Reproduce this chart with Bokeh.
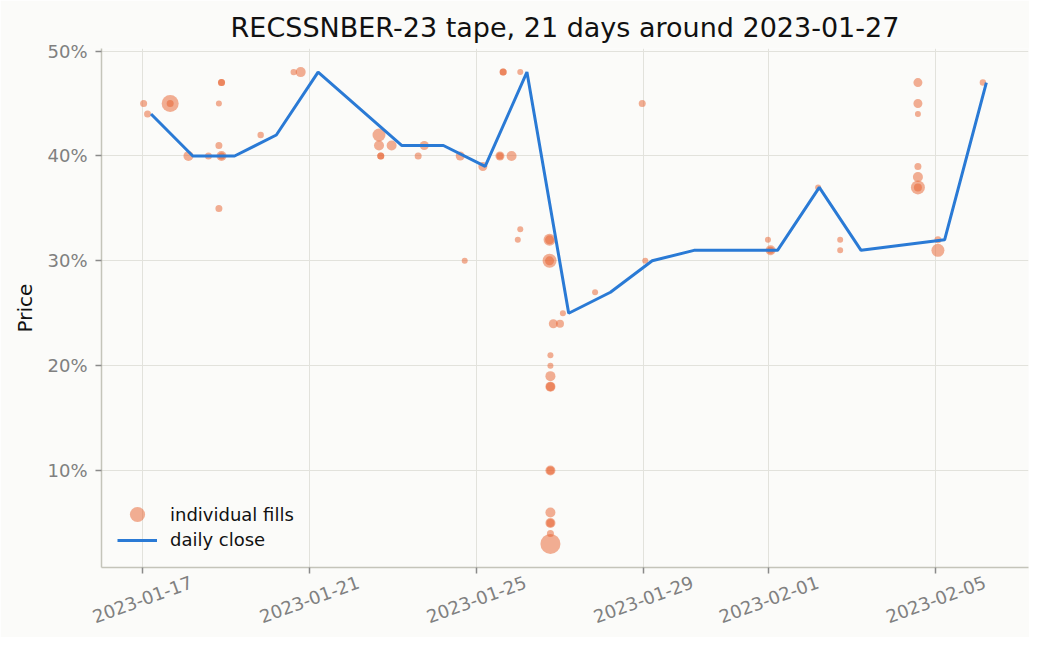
import math
import numpy as np
import pandas as pd
from bokeh.plotting import figure
from bokeh.models import (ColumnDataSource, Range1d, FixedTicker, DatetimeTickFormatter,
                          PrintfTickFormatter, Legend, LegendItem, LinearAxis)
from bokeh.embed import file_html
from bokeh.resources import INLINE

# ---------------- data ----------------
fill_times = [
    "2023-01-17 00:45", "2023-01-17 03:00", "2023-01-17 16:00", "2023-01-17 16:00",
    "2023-01-18 02:30", "2023-01-18 14:00", "2023-01-18 20:00", "2023-01-18 21:30",
    "2023-01-18 21:30", "2023-01-18 20:00", "2023-01-18 21:30", "2023-01-18 21:30",
    "2023-01-18 20:00",
    "2023-01-19 20:00",
    "2023-01-20 15:00", "2023-01-20 19:00",
    "2023-01-22 16:00", "2023-01-22 16:00", "2023-01-22 23:15", "2023-01-22 17:00",
    "2023-01-22 17:00",
    "2023-01-23 14:30", "2023-01-23 18:00",
    "2023-01-24 14:40", "2023-01-24 17:15",
    "2023-01-25 03:40", "2023-01-25 13:30", "2023-01-25 13:30", "2023-01-25 20:10",
    "2023-01-25 15:20", "2023-01-25 15:20", "2023-01-25 23:45",
    "2023-01-26 01:10", "2023-01-26 01:10", "2023-01-26 18:00", "2023-01-26 18:00",
    "2023-01-26 18:00", "2023-01-26 18:00",
    "2023-01-26 18:30", "2023-01-26 18:30", "2023-01-26 18:30", "2023-01-26 18:30",
    "2023-01-26 18:30", "2023-01-26 18:30", "2023-01-26 18:30", "2023-01-26 18:30",
    "2023-01-26 18:30", "2023-01-26 18:30", "2023-01-26 18:30", "2023-01-26 18:30",
    "2023-01-26 20:10",
    "2023-01-27 00:00", "2023-01-27 01:40", "2023-01-27 20:10",
    "2023-01-28 23:15",
    "2023-01-29 01:00",
    "2023-01-31 23:30",
    "2023-02-01 01:00", "2023-02-01 01:00",
    "2023-02-02 04:20", "2023-02-02 17:00", "2023-02-02 17:00",
    "2023-02-04 13:40", "2023-02-04 13:40", "2023-02-04 13:40", "2023-02-04 13:40",
    "2023-02-04 13:40", "2023-02-04 13:40", "2023-02-04 13:40",
    "2023-02-05 01:10", "2023-02-05 01:10",
    "2023-02-06 03:00",
]
fill_prices = [
    45, 44, 45, 45,
    40, 40, 45, 47,
    47, 41, 40, 40,
    35,
    42,
    48, 48,
    42, 41, 41, 40,
    40,
    40, 41,
    40, 30,
    39, 40, 40, 40,
    48, 48, 32,
    48, 33, 32, 32,
    30, 30,
    21, 20, 19, 18,
    18, 10, 10, 6,
    5, 5, 4, 3,
    24,
    24, 25, 27,
    45,
    30,
    32,
    31, 31,
    37, 32, 31,
    47, 45, 44, 39,
    38, 37, 37,
    32, 31,
    47,
]
fill_qty = [
    4, 4, 144, 4,
    25, 4, 1, 4,
    4, 4, 25, 4,
    4,
    2,
    2, 25,
    64, 25, 25, 4,
    4,
    4, 16,
    16, 1,
    16, 16, 4, 25,
    4, 4, 1,
    1, 1, 49, 16,
    81, 16,
    1, 1, 25, 25,
    16, 25, 9, 25,
    25, 9, 4, 225,
    16,
    9, 1, 1,
    4,
    1,
    1,
    25, 4,
    1, 1, 1,
    16, 16, 1, 4,
    25, 81, 9,
    4, 64,
    2,
]

close_dates = [
    "2023-01-17", "2023-01-18", "2023-01-19", "2023-01-20", "2023-01-21",
    "2023-01-23", "2023-01-24", "2023-01-25", "2023-01-26", "2023-01-27",
    "2023-01-28", "2023-01-29", "2023-01-30", "2023-02-01", "2023-02-02",
    "2023-02-03", "2023-02-05", "2023-02-06",
]
close_prices = [44, 40, 40, 42, 48, 41, 41, 39, 48, 25, 27, 30, 31, 31, 37, 31, 32, 47]

tick_dates = ["2023-01-17", "2023-01-21", "2023-01-25", "2023-01-29", "2023-02-01", "2023-02-05"]
price_ticks = [10, 20, 30, 40, 50]

title_text = "RECSSNBER-23 tape, 21 days around 2023-01-27"

# ---------------- layout constants ----------------
W, H = 1029, 637
BORDER_L, BORDER_R, BORDER_T, BORDER_B = 101, 1, 48, 70
FRAME_W = W - BORDER_L - BORDER_R
LABEL_ANGLE = math.radians(20)
LABEL_PX = 18
LABEL_W_EM = 5.81          # advance width of "YYYY-MM-DD" in DejaVu Sans (em)

# ---------------- build ----------------
ft = pd.to_datetime(fill_times)
ct = pd.to_datetime(close_dates) + pd.Timedelta(hours=5)
fp = np.array(fill_prices, dtype=float)
cp = np.array(close_prices, dtype=float)
sizes = 5 + np.sqrt(np.array(fill_qty, dtype=float))

all_t = ft.append(ct)
tmin, tmax = all_t.min(), all_t.max()
tpad = (tmax - tmin) * 0.05
x_start, x_end = tmin - tpad, tmax + tpad
pmin = min(fp.min(), cp.min())
pmax = max(fp.max(), cp.max())
ppad = (pmax - pmin) * 0.05

BG = "#fbfbf9"
FONT = "DejaVu Sans"
TICK_GREY = "#808080"

p = figure(width=W, height=H, x_axis_type="datetime",
           output_backend="svg", toolbar_location=None,
           x_range=Range1d(x_start, x_end),
           y_range=Range1d(pmin - ppad, pmax + ppad),
           min_border_left=BORDER_L, min_border_right=BORDER_R,
           min_border_top=BORDER_T, min_border_bottom=BORDER_B,
           background_fill_color=BG, border_fill_color=BG, outline_line_color=None)

p.title.text = title_text
p.title.align = "center"
p.title.text_font = FONT
p.title.text_font_size = "27px"
p.title.text_font_style = "normal"
p.title.text_color = "#111111"
p.title.standoff = 11

src = ColumnDataSource(dict(t=ft, price=fp, sz=sizes))
sc = p.scatter("t", "price", size="sz", source=src, fill_color="#e8602c",
               fill_alpha=0.5, line_color=None)
ln = p.line(ct, cp, line_color="#2a7ad5", line_width=3)

xax = p.xaxis[0]
yax = p.yaxis[0]

tick_ms = [int(v) // 10**6 for v in pd.to_datetime(tick_dates).astype("int64")]
xax.ticker = FixedTicker(ticks=tick_ms)
fmt = "%Y-%m-%d"
xax.formatter = DatetimeTickFormatter(hours=fmt, days=fmt, months=fmt, years=fmt)
xax.major_label_overrides = {ms: "" for ms in tick_ms}

yax.ticker = FixedTicker(ticks=price_ticks)
yax.formatter = PrintfTickFormatter(format="%d%%")
yax.axis_label = "Price"
yax.axis_label_text_font = FONT
yax.axis_label_text_font_size = "20px"
yax.axis_label_text_font_style = "normal"
yax.axis_label_text_color = "#111111"
yax.axis_label_standoff = 7

for ax in (xax, yax):
    ax.axis_line_color = "#c4c4ba"
    ax.axis_line_width = 1.5
    ax.major_tick_line_color = "#8a8a8a"
    ax.major_tick_line_width = 1.5
    ax.major_tick_out = 6
    ax.major_tick_in = 0
    ax.minor_tick_line_color = None
    ax.major_label_text_color = TICK_GREY
    ax.major_label_text_font = FONT
    ax.major_label_text_font_size = "18px"
    ax.major_label_standoff = 8
xax.major_label_standoff = 0

for g in (p.xgrid, p.ygrid):
    g.grid_line_color = "#e2e2dc"
    g.grid_line_width = 1

# second, tick-less axis that carries the rotated date labels, centred on the ticks
ms_per_px = (x_end - x_start).total_seconds() * 1000.0 / FRAME_W
shift = int(round(0.5 * LABEL_W_EM * LABEL_PX * math.cos(LABEL_ANGLE) * ms_per_px))
lab_ticks = [ms + shift for ms in tick_ms]
lab_axis = LinearAxis(ticker=FixedTicker(ticks=lab_ticks),
                      major_label_overrides={t: d for t, d in zip(lab_ticks, tick_dates)},
                      major_label_orientation=LABEL_ANGLE,
                      axis_line_color=None, major_tick_line_color=None,
                      minor_tick_line_color=None, major_tick_out=0, major_tick_in=0,
                      major_label_standoff=8,
                      major_label_text_font=FONT, major_label_text_font_size=f"{LABEL_PX}px",
                      major_label_text_color=TICK_GREY)
p.add_layout(lab_axis, "below")


def make_legend(item, gh, loc):
    lg = Legend(items=[item], location=loc)
    lg.label_text_font = FONT
    lg.label_text_font_size = "18px"
    lg.label_text_color = "#111111"
    lg.glyph_width = 40
    lg.glyph_height = gh
    lg.label_standoff = 13
    lg.padding = 0
    lg.margin = 0
    lg.spacing = 0
    lg.border_line_color = None
    lg.background_fill_alpha = 0
    return lg


p.add_layout(make_legend(LegendItem(label="individual fills", renderers=[sc]), 38, (16, 34)))
p.add_layout(make_legend(LegendItem(label="daily close", renderers=[ln]), 20, (16, 17)))

open("out.html", "w").write(file_html(p, INLINE))
